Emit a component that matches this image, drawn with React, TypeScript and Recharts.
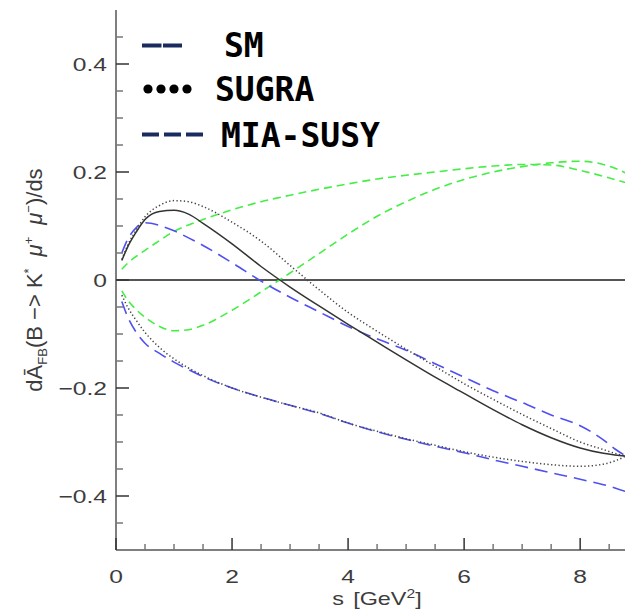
import React from 'react';
import { LineChart, Line, XAxis, YAxis, ReferenceLine, Legend, Label } from 'recharts';

// s values [GeV^2]
const sValues = [0.1, 0.2, 0.35, 0.5, 0.75, 1.0, 1.25, 1.5, 2.0, 2.5, 3.0, 3.5, 4.0, 4.5, 5.0, 5.5, 6.0, 6.5, 7.0, 7.5, 8.0, 8.4, 8.6, 8.79];

const smValues = [0.036, 0.061, 0.089, 0.112, 0.127, 0.129, 0.122, 0.105, 0.067, 0.025, -0.013, -0.048, -0.082, -0.115, -0.148, -0.18, -0.21, -0.24, -0.268, -0.292, -0.311, -0.321, -0.324, -0.326];
const sugraUpper = [0.038, 0.064, 0.093, 0.117, 0.138, 0.147, 0.145, 0.136, 0.107, 0.072, 0.027, -0.018, -0.06, -0.095, -0.128, -0.16, -0.192, -0.221, -0.249, -0.275, -0.3, -0.314, -0.321, -0.326];
const sugraLower = [-0.028, -0.05, -0.075, -0.097, -0.125, -0.146, -0.163, -0.177, -0.2, -0.217, -0.232, -0.246, -0.265, -0.28, -0.294, -0.306, -0.318, -0.328, -0.336, -0.342, -0.345, -0.341, -0.335, -0.326];
const miaUpper = [0.05, 0.075, 0.097, 0.106, 0.101, 0.091, 0.078, 0.064, 0.032, -0.002, -0.032, -0.059, -0.086, -0.109, -0.13, -0.155, -0.18, -0.205, -0.227, -0.25, -0.27, -0.296, -0.313, -0.326];
const miaLower = [-0.04, -0.068, -0.097, -0.117, -0.136, -0.152, -0.166, -0.179, -0.2, -0.217, -0.232, -0.247, -0.265, -0.281, -0.295, -0.308, -0.32, -0.333, -0.345, -0.357, -0.369, -0.379, -0.385, -0.392];
const greenUpper = [0.02, 0.031, 0.044, 0.055, 0.073, 0.09, 0.102, 0.112, 0.13, 0.145, 0.157, 0.168, 0.178, 0.187, 0.194, 0.2, 0.206, 0.211, 0.214, 0.213, 0.203, 0.192, 0.186, 0.18];
const greenLower = [-0.02, -0.037, -0.055, -0.069, -0.086, -0.094, -0.092, -0.084, -0.056, -0.022, 0.013, 0.049, 0.085, 0.118, 0.145, 0.168, 0.186, 0.2, 0.21, 0.217, 0.22, 0.214, 0.207, 0.198];

const xDomain = [0, 8.79];
const yDomain = [-0.5, 0.5];
const xTicks = [0, 0.5, 1, 1.5, 2, 2.5, 3, 3.5, 4, 4.5, 5, 5.5, 6, 6.5, 7, 7.5, 8, 8.5];
const yTicks = [-0.45, -0.4, -0.35, -0.3, -0.25, -0.2, -0.15, -0.1, -0.05, 0, 0.05, 0.1, 0.15, 0.2, 0.25, 0.3, 0.35, 0.4, 0.45];

const legendItems = ['SM', 'SUGRA', 'MIA-SUSY'];

const data = sValues.map((s, i) => ({
  s,
  sm: smValues[i],
  sugraUp: sugraUpper[i],
  sugraLow: sugraLower[i],
  miaUp: miaUpper[i],
  miaLow: miaLower[i],
  greenUp: greenUpper[i],
  greenLow: greenLower[i],
}));

const FRAME = '#555';
const LABEL = '#3c3c3c';
const TICK_FONT = 'Liberation Sans, Arial, sans-serif';
const NAVY = '#1a2b5f';

const isMajorY = (v: number) => Math.abs(v * 5 - Math.round(v * 5)) < 1e-6;
const isMajorX = (v: number) => Math.abs(v / 2 - Math.round(v / 2)) < 1e-6;
const fmtY = (v: number) => {
  const r = Math.round(v * 10) / 10;
  if (Math.abs(r) < 1e-9) return '0';
  return (r < 0 ? '\u2212' : '') + Math.abs(r).toFixed(1);
};

const LeftTick = (props: any) => {
  const { x, y, payload } = props;
  const v = payload.value;
  const major = isMajorY(v);
  return (
    <g>
      <line x1={x} x2={x + (major ? 13 : 7)} y1={y} y2={y} stroke={major ? '#333' : '#777'} strokeWidth={1.5} />
      {major && (
        <text x={0} y={0} transform={`translate(${x - 9} ${y + 6.5}) scale(1.33 1)`} textAnchor="end" fontFamily={TICK_FONT} fontSize={18.5} fill={LABEL}>
          {fmtY(v)}
        </text>
      )}
    </g>
  );
};

const RightTick = (props: any) => {
  const { x, y, payload } = props;
  const major = isMajorY(payload.value);
  return <line x1={x} x2={x - (major ? 13 : 7)} y1={y} y2={y} stroke={major ? '#333' : '#777'} strokeWidth={1.5} />;
};

const BottomTick = (props: any) => {
  const { x, y, payload } = props;
  const v = payload.value;
  const major = isMajorX(v);
  return (
    <g>
      <line x1={x} x2={x} y1={y} y2={y - (major ? 12 : 6)} stroke={major ? '#333' : '#777'} strokeWidth={1.5} />
      {major && (
        <text x={0} y={0} transform={`translate(${x} ${y + 33}) scale(1.33 1)`} textAnchor="middle" fontFamily={TICK_FONT} fontSize={18.5} fill={LABEL}>
          {String(v)}
        </text>
      )}
    </g>
  );
};

const TopTick = (props: any) => {
  const { x, y, payload } = props;
  const major = isMajorX(payload.value);
  return <line x1={x} x2={x} y1={y} y2={y + (major ? 12 : 6)} stroke={major ? '#333' : '#777'} strokeWidth={1.5} />;
};

const XTitle = (props: any) => {
  const vb = props.viewBox;
  const cx = vb.x + vb.width / 2 + 6;
  const cy = vb.y + 55;
  return (
    <text x={0} y={0} transform={`translate(${cx} ${cy}) scale(1.3 1)`} textAnchor="middle" fontFamily={TICK_FONT} fontSize={18} fill={LABEL}>
      s<tspan dx={7}>[GeV</tspan>
      <tspan fontSize={12} dy={-7}>2</tspan>
      <tspan dy={7}>]</tspan>
    </text>
  );
};

const YTitle = (props: any) => {
  const vb = props.viewBox;
  const cx = vb.x + 42;
  const cy = vb.y + vb.height / 2;
  return (
    <text x={0} y={0} transform={`translate(${cx} ${cy}) rotate(-90)`} textAnchor="middle" fontFamily={TICK_FONT} fontSize={22} fill={LABEL}>
      <tspan>d{'\u0100'}</tspan>
      <tspan fontSize={13} dy={5}>FB</tspan>
      <tspan dy={-5}>(B {'\u2212'}&gt; K</tspan>
      <tspan fontSize={13} dy={-9}>*</tspan>
      <tspan dy={9} dx={12} fontStyle="italic">{'\u03bc'}</tspan>
      <tspan fontSize={13} dy={-9}>+</tspan>
      <tspan dy={9} dx={12} fontStyle="italic">{'\u03bc'}</tspan>
      <tspan fontSize={13} dy={-9}>{'\u2212'}</tspan>
      <tspan dy={9}>)/ds</tspan>
    </text>
  );
};

const LegendBox = () => {
  const textX = [224, 215, 221];
  const baseY = [57, 101, 147];
  return (
    <svg width={420} height={160} style={{ display: 'block' }}>
      <line x1={142} x2={182} y1={45.5} y2={45.5} stroke={NAVY} strokeWidth={4} strokeDasharray="19.5 1.5" />
      {[148, 161, 174, 187].map((cx) => (
        <circle key={cx} cx={cx} cy={89} r={4.6} fill="#000" />
      ))}
      <line x1={142} x2={203} y1={134.5} y2={134.5} stroke={NAVY} strokeWidth={4} strokeDasharray="17 5" />
      {legendItems.map((name, i) => (
        <text key={name} x={textX[i]} y={baseY[i]} fontFamily="DejaVu Sans Mono, monospace" fontWeight="bold" fontSize={33} fill="#000">
          {name}
        </text>
      ))}
    </svg>
  );
};

export default function App() {
  return (
    <div style={{ position: 'absolute', left: 0, top: 0, width: 625, height: 609, overflow: 'hidden', background: '#fff' }}>
      <LineChart width={632} height={609} data={data} margin={{ top: 10, right: 6, bottom: 0, left: 0 }}>
        <XAxis
          dataKey="s"
          type="number"
          domain={xDomain}
          ticks={xTicks}
          interval={0}
          height={59}
          tickSize={0}
          tickMargin={0}
          tickLine={false}
          tick={BottomTick}
          axisLine={{ stroke: FRAME, strokeWidth: 1.5 }}
          allowDataOverflow
        >
          <Label content={XTitle} />
        </XAxis>
        <XAxis
          xAxisId="top"
          orientation="top"
          type="number"
          domain={xDomain}
          ticks={xTicks}
          interval={0}
          height={0}
          tickSize={0}
          tickMargin={0}
          tickLine={false}
          tick={TopTick}
          axisLine={{ stroke: FRAME, strokeWidth: 1.5 }}
          allowDataOverflow
        />
        <YAxis
          type="number"
          domain={yDomain}
          ticks={yTicks}
          interval={0}
          width={116}
          tickSize={0}
          tickMargin={0}
          tickLine={false}
          tick={LeftTick}
          axisLine={{ stroke: FRAME, strokeWidth: 1.5 }}
          allowDataOverflow
        >
          <Label content={YTitle} />
        </YAxis>
        <YAxis
          yAxisId="right"
          orientation="right"
          type="number"
          domain={yDomain}
          ticks={yTicks}
          interval={0}
          width={0}
          tickSize={0}
          tickMargin={0}
          tickLine={false}
          tick={RightTick}
          axisLine={{ stroke: FRAME, strokeWidth: 1.5 }}
          allowDataOverflow
        />
        <ReferenceLine y={0} stroke="#555" strokeWidth={1.8} />
        <Line dataKey="greenUp" type="monotone" stroke="#44ee44" strokeWidth={1.6} strokeDasharray="8 5" dot={false} activeDot={false} isAnimationActive={false} />
        <Line dataKey="greenLow" type="monotone" stroke="#44ee44" strokeWidth={1.6} strokeDasharray="8 5" dot={false} activeDot={false} isAnimationActive={false} />
        <Line dataKey="miaUp" type="monotone" stroke="#5050f0" strokeWidth={1.6} strokeDasharray="13 7" dot={false} activeDot={false} isAnimationActive={false} />
        <Line dataKey="miaLow" type="monotone" stroke="#5050f0" strokeWidth={1.6} strokeDasharray="13 7" dot={false} activeDot={false} isAnimationActive={false} />
        <Line dataKey="sugraUp" type="monotone" stroke="#444" strokeWidth={1.5} strokeDasharray="1.3 2.4" dot={false} activeDot={false} isAnimationActive={false} />
        <Line dataKey="sugraLow" type="monotone" stroke="#444" strokeWidth={1.5} strokeDasharray="1.3 2.4" dot={false} activeDot={false} isAnimationActive={false} />
        <Line dataKey="sm" type="monotone" stroke="#333" strokeWidth={1.5} dot={false} activeDot={false} isAnimationActive={false} />
        <Legend
          layout="horizontal"
          verticalAlign="middle"
          align="center"
          content={LegendBox}
          wrapperStyle={{ position: 'absolute', left: 0, top: 0, width: 420, height: 160, pointerEvents: 'none' }}
        />
      </LineChart>
    </div>
  );
}
